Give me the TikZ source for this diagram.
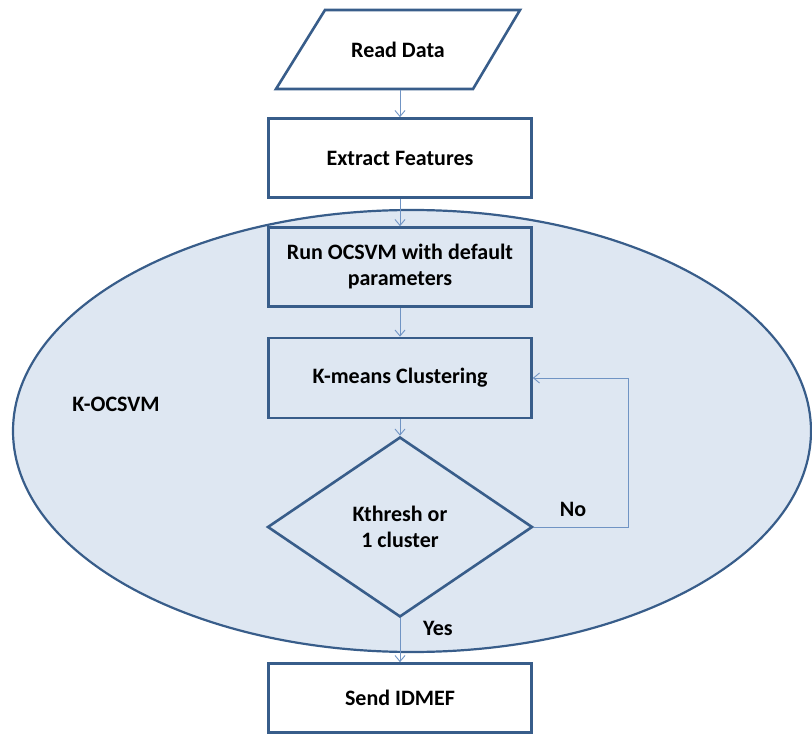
\documentclass[tikz,border=0pt]{standalone}
\usepackage{fontspec}
\setmainfont{Carlito}
\usetikzlibrary{shapes.geometric,arrows.meta}
\definecolor{frame}{HTML}{385D8A}
\definecolor{pale}{HTML}{DEE7F2}
\definecolor{conn}{HTML}{7094C4}
\tikzset{
  txt/.style={font=\bfseries\fontsize{22}{26}\selectfont},
  box/.style={txt, draw=frame, line width=2.6pt, minimum width=263pt, inner sep=0pt, align=center},
  lbl/.style={txt},
  conn/.style={draw=conn, line width=0.9pt, -{Straight Barb[length=6pt,width=10pt]}}
}
\begin{document}
\begin{tikzpicture}[x=1pt,y=-1pt]
\useasboundingbox (0,0) rectangle (812,735);
% ellipse
\draw[frame, fill=pale, line width=2.2pt] (412,431) ellipse [x radius=399, y radius=221];
\node[lbl] (kocsvm) at (116,404) {K-OCSVM};
% parallelogram
\draw[frame, fill=white, line width=2.6pt, line join=miter] (276,89) -- (325,10) -- (520,10) -- (473,89) -- cycle;
\node[txt, minimum width=150pt, minimum height=79pt, inner sep=0pt] (read) at (398,50) {Read Data};
\node[box, fill=white, minimum height=79pt] (extract) at (400,158) {Extract Features};
\node[box, fill=pale, minimum height=79pt] (run) at (400,267) {Run OCSVM with default\\parameters};
\node[box, fill=pale, minimum height=80pt] (kmeans) at (400,378) {K-means Clustering};
\node[txt, draw=frame, line width=2.6pt, fill=pale, diamond, aspect=1.472, minimum width=265pt, minimum height=180pt, inner sep=0pt, align=center] (dec) at (400,527) {Kthresh or\\1 cluster};
\node[box, fill=white, minimum height=69pt] (send) at (400,698) {Send IDMEF};
\coordinate (c1) at (628,527);
\coordinate (c2) at (628,378);
\draw[conn] (extract.north |- read.south) -- (extract.north);
\draw[conn] (extract) -- (run);
\draw[conn] (run) -- (kmeans);
\draw[conn] (kmeans) -- (dec);
\draw[conn] (dec) -- (send);
\draw[conn] (dec.east) -- (c1) -- (c2) -- (kmeans.east);
\node[lbl] (no) at (573,509) {No};
\node[lbl] (yes) at (438,628) {Yes};
\end{tikzpicture}
\end{document}
